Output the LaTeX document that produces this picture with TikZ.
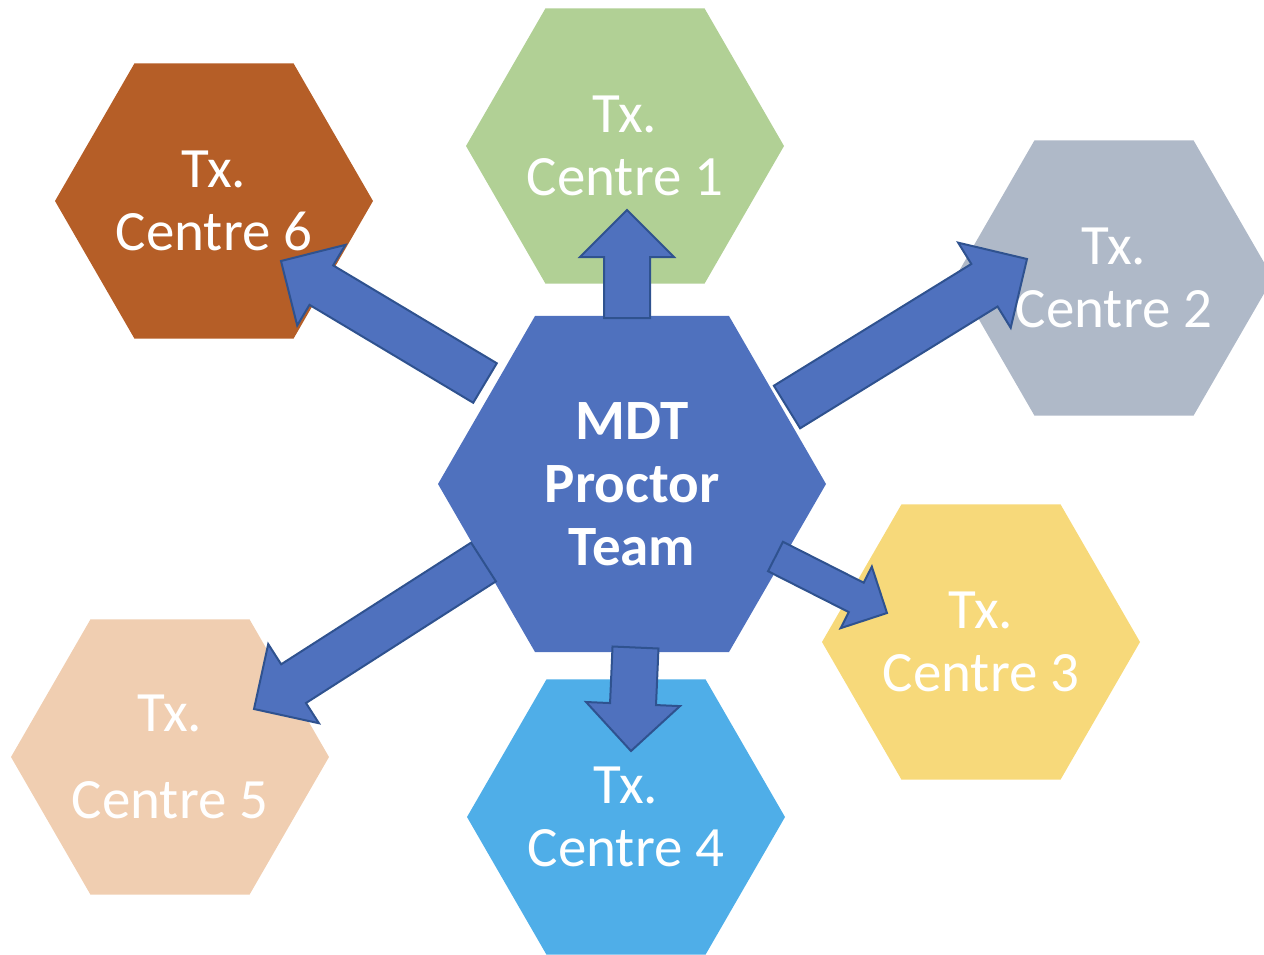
\documentclass[tikz,border=0pt]{standalone}
\usepackage{fontspec}
\setmainfont{Carlito}
\usetikzlibrary{shapes.geometric,calc}
\definecolor{mdtblue}{HTML}{4F71BE}
\definecolor{arrowline}{HTML}{2F528F}
\definecolor{txgreen}{HTML}{B1D095}
\definecolor{txbrown}{HTML}{B55E27}
\definecolor{txgrey}{HTML}{AFB9C8}
\definecolor{txyellow}{HTML}{F7D97A}
\definecolor{txsky}{HTML}{4FAEE8}
\definecolor{txpeach}{HTML}{F0CEB1}
\begin{document}
\begin{tikzpicture}[x=1pt,y=-1pt,
    hexa/.style={regular polygon, regular polygon sides=6, inner sep=-30pt,
        text=white, align=center, font=\fontsize{57}{63}\selectfont},
    centre/.style={hexa, minimum size=318pt, fill=#1},
    blockarrow/.style={fill=mdtblue, draw=arrowline, line width=2pt, line join=miter}]
    \useasboundingbox (0,0) rectangle (1264,954);
    \clip (0,0) rectangle (1264,954);
    \node[centre=txgreen] (c1) at (625,146) {Tx.\\Centre 1};
    \node[centre=txgrey] (c2) at (1114,278) {Tx.\\Centre 2};
    \node[centre=txyellow] (c3) at (981,642) {Tx.\\Centre 3};
    \node[centre=txsky] (c4) at (626,817) {Tx.\\Centre 4};
    \node[centre=txpeach] (c5) at (170,757) {Tx.\\[24pt]Centre 5};
    \node[centre=txbrown] (c6) at (214,201) {Tx.\\Centre 6};
    \node[hexa, minimum size=388pt, fill=mdtblue, font=\fontsize{57}{63}\selectfont\bfseries]
        (mdt) at (632,484) {MDT\\Proctor\\Team};
    \coordinate (base1) at (627,318);   \coordinate (tip1) at (627,210);
    \coordinate (base2) at (787,407);   \coordinate (tip2) at (1027,259);
    \coordinate (base3) at (775.5,556.5); \coordinate (tip3) at (887,613);
    \coordinate (base4) at (635.5,647.5); \coordinate (tip4) at (631,751);
    \coordinate (base5) at (483.5,562); \coordinate (tip5) at (254,709);
    \coordinate (base6) at (485,383);   \coordinate (tip6) at (281,261);
    \foreach \i/\w/\h in {1/23pt/47pt, 2/25pt/50pt, 3/16.5pt/34.5pt,
                          4/23pt/47pt, 5/23pt/47pt, 6/23pt/47pt} {
        \coordinate (neck\i) at ($(tip\i)!\h!(base\i)$);
        \draw[blockarrow] ($(base\i)!\w!90:(tip\i)$) -- ($(neck\i)!\w!90:(tip\i)$)
            -- ($(neck\i)!\h!90:(tip\i)$) -- (tip\i) -- ($(neck\i)!\h!-90:(tip\i)$)
            -- ($(neck\i)!\w!-90:(tip\i)$) -- ($(base\i)!\w!-90:(tip\i)$) -- cycle;
    }
\end{tikzpicture}
\end{document}
